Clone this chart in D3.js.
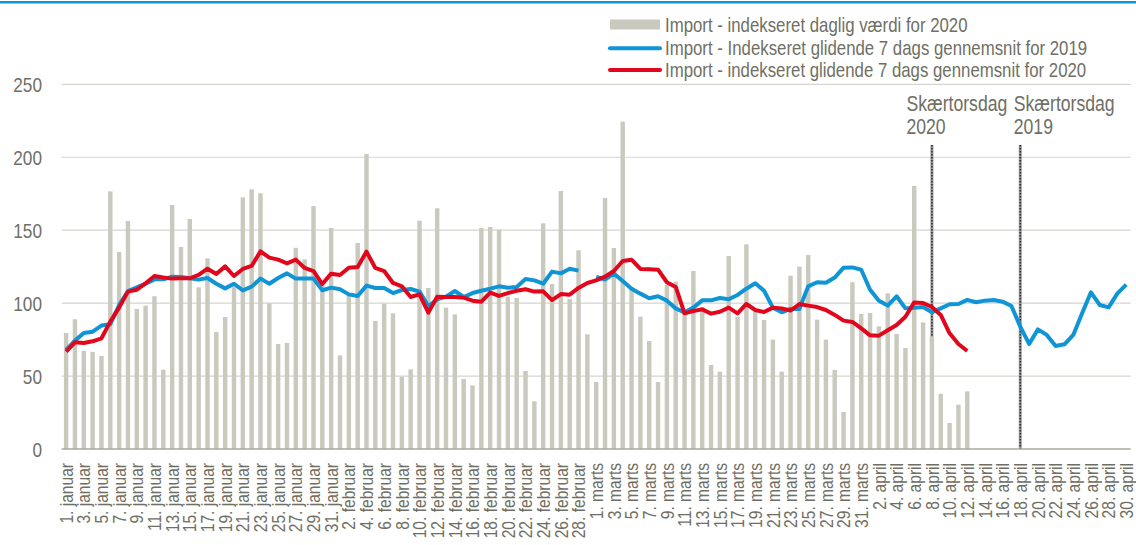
<!DOCTYPE html>
<html>
<head>
<meta charset="utf-8">
<script src="https://cdn.jsdelivr.net/npm/d3@7/dist/d3.min.js"></script>
<style>
  html, body { margin: 0; padding: 0; background: #ffffff; }
  svg { display: block; }
  text { font-family: "Liberation Sans", Arial, sans-serif; fill: #6f6f64; }
</style>
</head>
<body>
<svg id="chart" width="1136" height="545"></svg>
<script>
// ---------- DATA ----------
const monthNames = ["januar", "februar", "marts", "april"];
const monthDays = [31, 29, 31, 30];
const categories = [];
monthNames.forEach((m, mi) => { for (let d = 1; d <= monthDays[mi]; d++) categories.push(d + ". " + m); });

const daily2020 = [
  79.5, 88.9, 67.2, 66.5, 63.8, 176.6, 135.1, 156.3, 96.0, 98.3, 104.7, 54.4, 167.3, 138.5, 157.7, 110.8, 130.7, 80.2, 90.5, 111, 172.5,
  178.0, 175.3, 99.8, 72.0, 72.7, 137.9, 130.0, 166.5, 112, 151.5, 64.2, 106, 141.2, 202.2, 87.8, 99.6, 93.0, 49.6, 54.6, 156.5, 110.4,
  165.0, 96.9, 92.3, 48.0, 43.6, 151.5, 152.2, 150.4, 104.4, 103.5, 53.5, 32.7, 154.7, 113.1, 176.9, 102.8, 136.2, 78.6, 45.9, 172.1,
  137.8, 224.4, 111, 90.7, 74.0, 45.9, 112.4, 114.7, 95, 122.0, 97.4, 57.6, 53.0, 132.3, 90.7, 140.3, 94, 88.4, 75.0, 53.0, 118.8,
  125.0, 133.0, 88.7, 75.0, 54.2, 25.4, 114.3, 92.6, 93.2, 84.1, 106.7, 78.8, 69.2, 180.3, 86.8, 77.2, 37.9, 17.8, 30.4, 39.5
];

const avg2020 = [
  66.7, 73.1, 72.7, 73.8, 75.9, 87.3, 96.9, 107.9, 109.2, 113.6, 118.6, 117.5, 116.8, 117.0, 117.0, 119.3, 123.6, 120.0, 125.2, 118.6, 123.4,
  125.5, 135.5, 131.2, 129.8, 127.3, 129.8, 124.1, 122.0, 113.1, 120.2, 119.3, 124.3, 124.8, 135.3, 124.1, 122.0, 113.8, 111.5, 104.2, 106.0, 93.5,
  104.4, 104.2, 104.2, 103.7, 101.7, 101.0, 107.2, 104.9, 106.9, 108.5, 109.5, 107.9, 108.1, 102.1, 106.2, 105.8, 110.4, 113.8, 115.6, 118.1,
  122.0, 128.9, 129.8, 123.4, 123.2, 122.9, 114.3, 111.1, 93.0, 94.6, 95.7, 92.8, 94.1, 96.9, 93.0, 99.4, 95.3, 93.9, 96.9, 96.4, 94.9,
  99.4, 98.3, 97.3, 95.3, 91.9, 88.0, 87.1, 82.7, 77.9, 77.7, 81.4, 85.0, 90.7, 100.5, 100.1, 97.3, 91.9, 79.3, 72.0, 67.2
];

const avg2019 = [
  67.9, 74.3, 79.5, 80.4, 84.6, 85.5, 98.7, 108.3, 110.8, 113.3, 116.3, 116.3, 118.1, 117.9, 117.0, 116.1, 117.2, 113.3, 110.1, 113.3, 108.7,
  111.3, 116.8, 113.3, 117.2, 120.4, 116.8, 116.8, 116.8, 108.8, 110.6, 109.5, 106.0, 104.9, 112.0, 110.4, 110.4, 106.9, 109.0, 109.7, 107.9, 97.8,
  102.6, 104.4, 108.3, 104.2, 106.9, 108.5, 109.9, 111.5, 110.6, 111.1, 116.5, 115.6, 113.3, 121.6, 120.4, 123.6, 122.3, null, 117.9, 116.2,
  120.2, 115.2, 109.9, 106.5, 103.3, 104.7, 101.7, 96.4, 93.7, 96.9, 101.9, 101.9, 103.5, 102.6, 105.6, 109.9, 113.6, 108.5, 96.9, 93.7, 96.0,
  96.0, 111.5, 114.3, 114.0, 117.5, 124.3, 124.5, 122.9, 109.2, 101.7, 98.3, 104.7, 96.4, 96.9, 97.3, 93.7, 96.4, 99.2, 99.4, 102.2,
  100.6, 101.7, 102.1, 101.0, 98.0, 83.9, 72.0, 82.0, 78.2, 70.6, 71.8, 78.2, 93.0, 107.4, 98.7, 97.1, 106.7, 112.7
];

const yTicks = [0, 50, 100, 150, 200, 250];
const legendLabels = [
  "Import - indekseret daglig værdi for 2020",
  "Import - Indekseret glidende 7 dags gennemsnit for 2019",
  "Import - indekseret glidende 7 dags gennemsnit for 2020"
];
const markers = [
  { date: "8. april", lines: ["Skærtorsdag", "2020"], top: 208.4, textDx: -25.5 },
  { date: "18. april", lines: ["Skærtorsdag", "2019"], top: 208.4, textDx: -6.5 }
];

// ---------- STYLE ----------
const colBar = "#c9c9be", colBlue = "#0f95d6", colRed = "#e2061c", colGrid = "#d5d5cd", colAxis = "#a9a99d";
const narrow = 0.82;

const svg = d3.select("#chart");
svg.append("rect").attr("x", 0).attr("y", 0).attr("width", 1136).attr("height", 545).attr("fill", "#fff");
svg.append("rect").attr("x", 0).attr("y", 1).attr("width", 1136).attr("height", 2.5).attr("fill", colBlue);

const plotLeft = 61.7, plotRight = 1130.7, plotTop = 84.3, plotBottom = 449;
const x = d3.scaleBand().domain(categories).range([plotLeft, plotRight]).paddingInner(0.5).paddingOuter(0.25);
const xc = c => x(c) + x.bandwidth() / 2;
const y = d3.scaleLinear().domain([0, 250]).range([plotBottom, plotTop]);

// gridlines
svg.append("g").selectAll("line").data(yTicks.filter(t => t > 0)).join("line")
  .attr("x1", plotLeft).attr("x2", plotRight)
  .attr("y1", d => y(d)).attr("y2", d => y(d))
  .attr("stroke", colGrid).attr("stroke-width", 1.2);

// y labels
svg.append("g").selectAll("text").data(yTicks).join("text")
  .attr("transform", d => `translate(42,${y(d)}) scale(${narrow},1)`)
  .attr("text-anchor", "end").attr("dy", "0.36em")
  .style("font-size", "21px")
  .text(d => d);

// marker lines
const mk = svg.append("g");
markers.forEach(m => {
  const cx = xc(m.date);
  mk.append("line").attr("x1", cx).attr("x2", cx).attr("y1", y(m.top)).attr("y2", y(0))
    .attr("stroke", "#9a9a9a").attr("stroke-width", 3);
  mk.append("line").attr("x1", cx).attr("x2", cx).attr("y1", y(m.top)).attr("y2", y(0))
    .attr("stroke", "#2e2e2e").attr("stroke-width", 1.6).attr("stroke-dasharray", "1.5,1.5");
  m.lines.forEach((t, i) => {
    mk.append("text")
      .attr("transform", `translate(${cx + m.textDx},${110.7 + i * 23.5}) scale(${narrow},1)`)
      .style("font-size", "21.5px").text(t);
  });
});

// bars
svg.append("g").selectAll("rect").data(daily2020).join("rect")
  .attr("x", (d, i) => x(categories[i]))
  .attr("width", x.bandwidth())
  .attr("y", d => y(d))
  .attr("height", d => y(0) - y(d))
  .attr("fill", colBar);

// axis line
svg.append("line").attr("x1", plotLeft).attr("x2", plotRight).attr("y1", y(0)).attr("y2", y(0))
  .attr("stroke", colAxis).attr("stroke-width", 1.5);

// lines
const line = d3.line().defined(d => d != null).x((d, i) => xc(categories[i])).y(d => y(d));
svg.append("path").datum(avg2019).attr("d", line).attr("fill", "none")
  .attr("stroke", colBlue).attr("stroke-width", 4).attr("stroke-linejoin", "round");
svg.append("path").datum(avg2020).attr("d", line).attr("fill", "none")
  .attr("stroke", colRed).attr("stroke-width", 4).attr("stroke-linejoin", "round");

// x labels (every other day)
svg.append("g").selectAll("text").data(categories.filter((c, i) => i % 2 === 0)).join("text")
  .attr("transform", d => `translate(${xc(d)},463) rotate(-90) scale(${narrow},1)`)
  .attr("text-anchor", "end").attr("dy", "0.35em")
  .style("font-size", "19px")
  .text(d => d);

// legend
const lg = svg.append("g");
lg.append("rect").attr("x", 610).attr("y", 19.5).attr("width", 50).attr("height", 10).attr("fill", colBar);
lg.append("line").attr("x1", 610).attr("x2", 660).attr("y1", 48.3).attr("y2", 48.3)
  .attr("stroke", colBlue).attr("stroke-width", 4).attr("stroke-linecap", "round");
lg.append("line").attr("x1", 610).attr("x2", 660).attr("y1", 70).attr("y2", 70)
  .attr("stroke", colRed).attr("stroke-width", 4).attr("stroke-linecap", "round");
legendLabels.forEach((t, i) => {
  lg.append("text")
    .attr("transform", `translate(665,${[25, 48, 70][i]}) scale(${narrow},1)`)
    .attr("dy", "0.36em").style("font-size", "20.5px").text(t);
});
</script>
</body>
</html>
